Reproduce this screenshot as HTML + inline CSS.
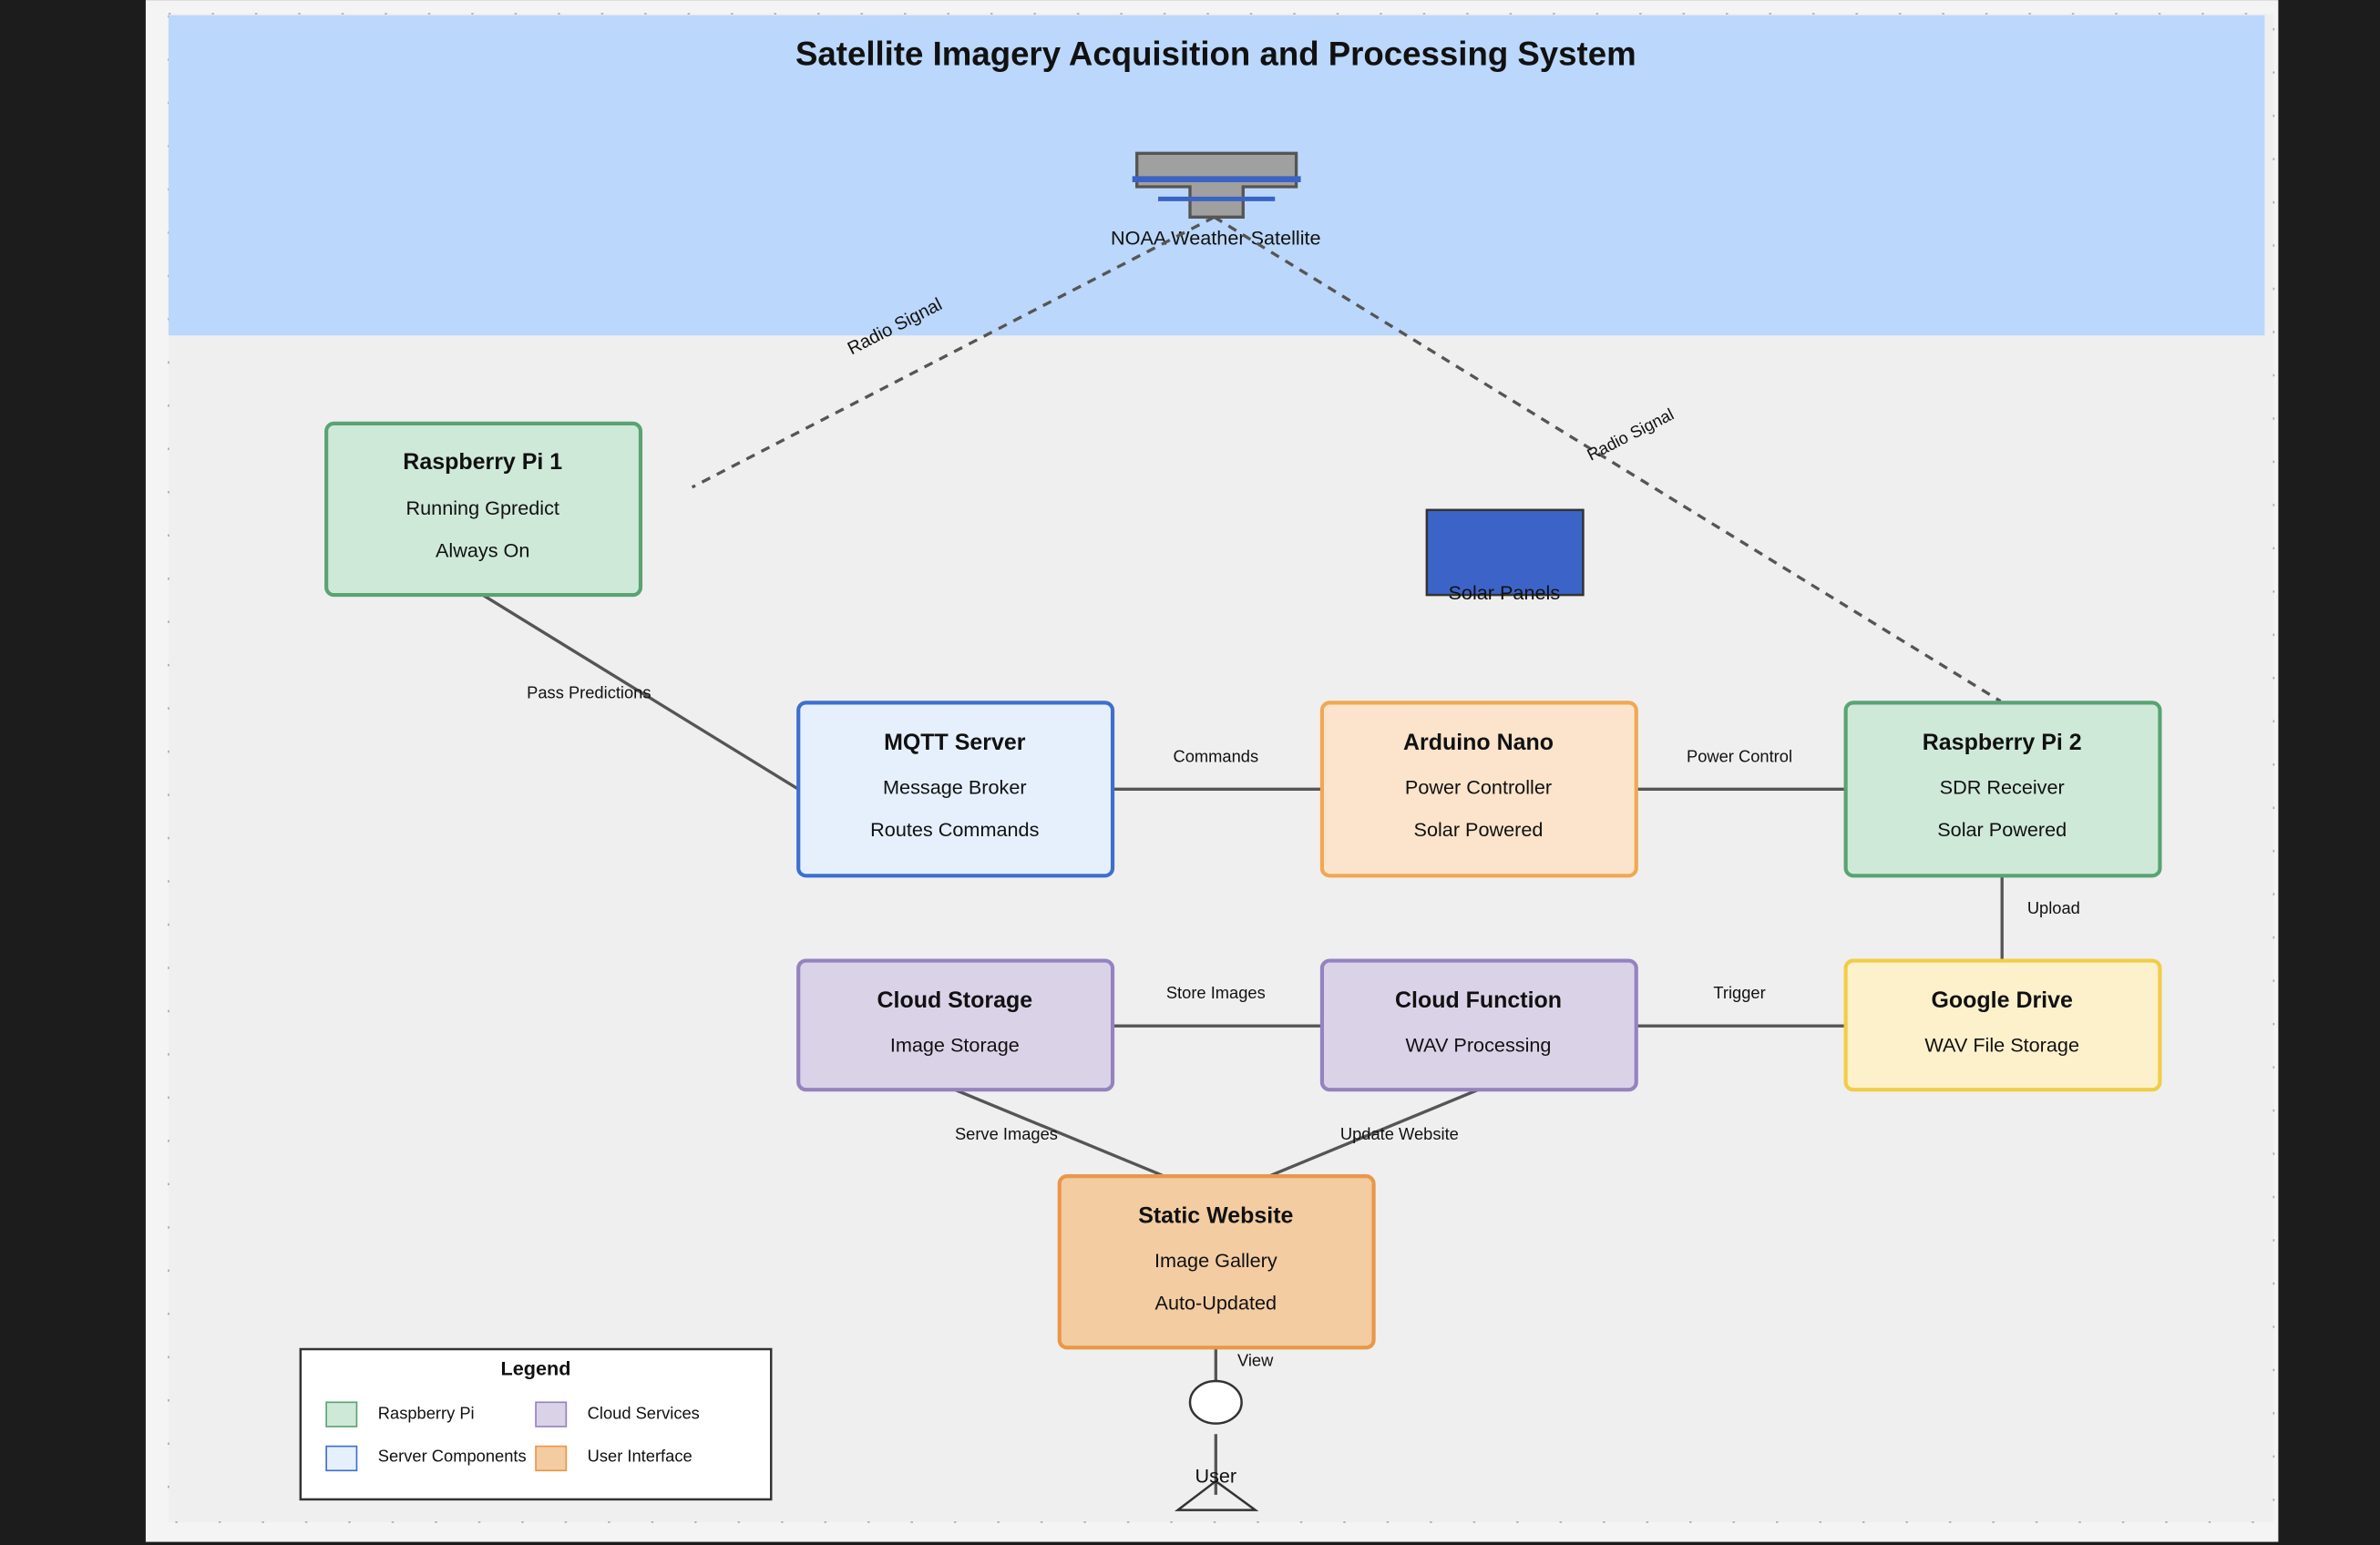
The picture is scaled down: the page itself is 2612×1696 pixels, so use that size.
<!DOCTYPE html>
<html><head><meta charset="utf-8"><style>html,body{margin:0;padding:0;background:#1c1c1c}svg{display:block}text{font-family:"Liberation Sans",sans-serif;fill:#111}</style></head>
<body>
<svg width="2612" height="1696" viewBox="0 0 1568 1018" xmlns="http://www.w3.org/2000/svg">
<rect x="0" y="0" width="1568" height="1018" fill="#1c1c1c"/>
<rect x="96" y="0" width="1405" height="1016" fill="#f4f4f4"/>
<rect x="111" y="9" width="1387" height="994" fill="#efefef" stroke="#aaa" stroke-width="1" stroke-dasharray="1.5 27"/>
<rect x="111" y="10" width="1381" height="211" fill="#bbd7fb"/>
<text x="801" y="43" font-size="22" font-weight="bold" text-anchor="middle">Satellite Imagery Acquisition and Processing System</text>
<!-- satellite -->
<path d="M749 101 H854 V123 H819 V143 H784 V123 H749 Z" fill="#a0a0a0" stroke="#555" stroke-width="2"/>
<line x1="746" y1="118" x2="857" y2="118" stroke="#3a63c4" stroke-width="4"/>
<line x1="763" y1="131" x2="840" y2="131" stroke="#3a63c4" stroke-width="3"/>
<text x="801" y="161" font-size="13" text-anchor="middle">NOAA Weather Satellite</text>
<!-- radio lines -->
<line x1="800" y1="143" x2="456" y2="321" stroke="#555" stroke-width="2" stroke-dasharray="6 5"/>
<line x1="800" y1="143" x2="1318" y2="462" stroke="#555" stroke-width="2" stroke-dasharray="6 5"/>
<text x="589" y="219" font-size="12" text-anchor="middle" transform="rotate(-27 589 214)">Radio Signal</text>
<text x="1074" y="290" font-size="11" text-anchor="middle" transform="rotate(-27 1074 286)">Radio Signal</text>
<!-- solar -->
<rect x="940" y="336" width="103" height="56" fill="#3c64c8" stroke="#333" stroke-width="1.5"/>
<text x="991" y="395" font-size="13" text-anchor="middle">Solar Panels</text>
<!-- connectors -->
<g stroke="#555" stroke-width="2">
<line x1="318" y1="392" x2="526" y2="520"/>
<line x1="733" y1="520" x2="871" y2="520"/>
<line x1="1078" y1="520" x2="1216" y2="520"/>
<line x1="1319" y1="577" x2="1319" y2="634"/>
<line x1="733" y1="676" x2="871" y2="676"/>
<line x1="1078" y1="676" x2="1216" y2="676"/>
<line x1="629" y1="718" x2="767" y2="775"/>
<line x1="974" y1="718" x2="836" y2="775"/>
<line x1="801" y1="888" x2="801" y2="930"/>
<line x1="801" y1="945" x2="801" y2="985"/>
</g>
<g font-size="11" text-anchor="middle">
<text x="388" y="460">Pass Predictions</text>
<text x="801" y="502">Commands</text>
<text x="1146" y="502">Power Control</text>
<text x="1353" y="602">Upload</text>
<text x="801" y="658">Store Images</text>
<text x="1146" y="658">Trigger</text>
<text x="663" y="751">Serve Images</text>
<text x="922" y="751">Update Website</text>
<text x="827" y="900">View</text>
</g>
<!-- nodes -->
<g stroke-width="2.5">
<rect x="215" y="279" width="207" height="113" rx="5" fill="#cfe9d9" stroke="#5aa373"/>
<rect x="526" y="463" width="207" height="114" rx="5" fill="#e6f0fd" stroke="#3d6fd0"/>
<rect x="871" y="463" width="207" height="114" rx="5" fill="#fbe4cb" stroke="#f0a852"/>
<rect x="1216" y="463" width="207" height="114" rx="5" fill="#cfe9d9" stroke="#5aa373"/>
<rect x="526" y="633" width="207" height="85" rx="5" fill="#dad3e8" stroke="#9582c0"/>
<rect x="871" y="633" width="207" height="85" rx="5" fill="#dad3e8" stroke="#9582c0"/>
<rect x="1216" y="633" width="207" height="85" rx="5" fill="#fdf1cc" stroke="#f1cd46"/>
<rect x="698" y="775" width="207" height="113" rx="5" fill="#f3cca1" stroke="#e9974a"/>
</g>
<g text-anchor="middle" font-size="13">
<text x="318" y="309" font-size="15" font-weight="bold">Raspberry Pi 1</text>
<text x="318" y="339">Running Gpredict</text>
<text x="318" y="367">Always On</text>
<text x="629" y="494" font-size="15" font-weight="bold">MQTT Server</text>
<text x="629" y="523">Message Broker</text>
<text x="629" y="551">Routes Commands</text>
<text x="974" y="494" font-size="15" font-weight="bold">Arduino Nano</text>
<text x="974" y="523">Power Controller</text>
<text x="974" y="551">Solar Powered</text>
<text x="1319" y="494" font-size="15" font-weight="bold">Raspberry Pi 2</text>
<text x="1319" y="523">SDR Receiver</text>
<text x="1319" y="551">Solar Powered</text>
<text x="629" y="664" font-size="15" font-weight="bold">Cloud Storage</text>
<text x="629" y="693">Image Storage</text>
<text x="974" y="664" font-size="15" font-weight="bold">Cloud Function</text>
<text x="974" y="693">WAV Processing</text>
<text x="1319" y="664" font-size="15" font-weight="bold">Google Drive</text>
<text x="1319" y="693">WAV File Storage</text>
<text x="801" y="806" font-size="15" font-weight="bold">Static Website</text>
<text x="801" y="835">Image Gallery</text>
<text x="801" y="863">Auto-Updated</text>
</g>
<!-- user -->
<ellipse cx="801" cy="924" rx="17" ry="14" fill="#fff" stroke="#333" stroke-width="1.5"/>
<polygon points="801,976 776,995 827,995" fill="none" stroke="#333" stroke-width="1.5"/>
<text x="801" y="977" font-size="13" text-anchor="middle">User</text>
<!-- legend -->
<rect x="198" y="889" width="310" height="99" fill="#fff" stroke="#333" stroke-width="1.5"/>
<text x="353" y="906" font-size="13" font-weight="bold" text-anchor="middle">Legend</text>
<rect x="215" y="924" width="20" height="16" fill="#cfe9d9" stroke="#5aa373"/>
<text x="249" y="935" font-size="11">Raspberry Pi</text>
<rect x="353" y="924" width="20" height="16" fill="#dad3e8" stroke="#9582c0"/>
<text x="387" y="935" font-size="11">Cloud Services</text>
<rect x="215" y="953" width="20" height="16" fill="#e6f0fd" stroke="#3d6fd0"/>
<text x="249" y="963" font-size="11">Server Components</text>
<rect x="353" y="953" width="20" height="16" fill="#f3cca1" stroke="#e9974a"/>
<text x="387" y="963" font-size="11">User Interface</text>
</svg>
</body></html>
